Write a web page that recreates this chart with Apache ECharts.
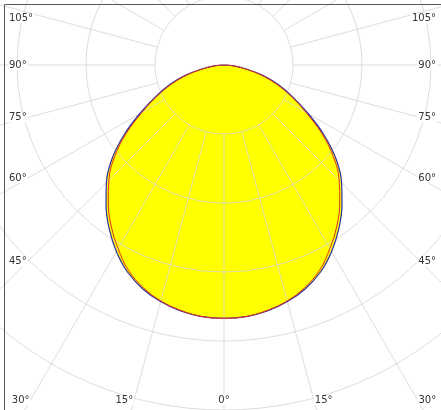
<!DOCTYPE html>
<html><head><meta charset="utf-8">
<script src="https://cdn.jsdelivr.net/npm/echarts@6/dist/echarts.min.js"></script>
<style>html,body{margin:0;padding:0;background:#fff}#c{width:441px;height:410px}</style>
</head><body><div id="c"></div>
<script>
// Gamma angles (deg from nadir) and luminous intensity (arbitrary units, ring = 100)
const gammaAngles = [0,5,10,15,20,25,30,35,40,45,50,55,60,65,70,75,80,85,90];
const curveBlue   = [367,366,362,355,345,331,312,290,266,241,212,177,141,110,84,58,31,14,0];
const curveRed    = [367,366,361,354,343,328,307,285,261,236,207,173,137,107,81,56,30,13,0];
const angleLabels = [0,15,30,45,60,75,90,105];
const ringMax = 600;

function buildCurve(vals){
  const pts = [];
  for (let i = gammaAngles.length - 1; i >= 0; i--) pts.push([vals[i], gammaAngles[i]]);
  for (let i = 1; i < gammaAngles.length; i++) pts.push([vals[i], 360 - gammaAngles[i]]);
  return pts;
}

const chart = echarts.init(document.getElementById('c'), null, {renderer:'canvas'});
const CX = 224, CY = 65, R = 414;
const gridColor = 'rgba(212,212,212,0.8)';
const option = {
  animation:false,
  polar:[{center:[CX,CY], radius:[0,R]},{center:[CX,CY], radius:[R/6,R*1.2]}],
  angleAxis:[
    {polarIndex:0,type:'value',min:0,max:360,interval:15,startAngle:270,clockwise:true,
     axisLine:{show:false},axisTick:{show:false},axisLabel:{show:false},splitLine:{show:false},z:5},
    {polarIndex:1,type:'value',min:0,max:360,interval:15,startAngle:270,clockwise:true,
     axisLine:{show:false},axisTick:{show:false},axisLabel:{show:false},
     splitLine:{show:true,lineStyle:{color:gridColor,width:1}},z:5}
  ],
  radiusAxis:[
    {polarIndex:0,type:'value',min:0,max:ringMax,interval:100,
     axisLine:{show:false},axisTick:{show:false},axisLabel:{show:false},
     splitLine:{show:true,lineStyle:{color:gridColor,width:1}},z:5},
    {polarIndex:1,type:'value',min:0,max:1,
     axisLine:{show:false},axisTick:{show:false},axisLabel:{show:false},splitLine:{show:false}}
  ],
  series:[
    {type:'line',coordinateSystem:'polar',polarIndex:0,data:buildCurve(curveBlue),smooth:0.4,
     symbol:'none',lineStyle:{width:0},areaStyle:{color:'#ffff00',opacity:1},z:1,silent:true},
    {type:'line',coordinateSystem:'polar',polarIndex:0,data:buildCurve(curveBlue),smooth:0.4,
     symbol:'none',lineStyle:{width:1.2,color:'#2e2ea6'},z:10},
    {type:'line',coordinateSystem:'polar',polarIndex:0,data:buildCurve(curveRed),smooth:0.4,
     symbol:'none',lineStyle:{width:1,color:'#e0301e'},z:11}
  ]
};
chart.setOption(option);

// angle labels: vertical position from where each ray crosses an inset line, text kept inside the frame
const graphics = [
  {type:'polyline',shape:{points:[[4.5,410],[4.5,4.5],[441,4.5]]},style:{stroke:'#555',lineWidth:1,fill:null},z:50}
];
const font = '10px "DejaVu Sans", sans-serif';
const c = chart.convertToPixel({polarIndex:0},[0,0]);
angleLabels.forEach(g=>{
  [1,-1].forEach(side=>{
    if (g===0 && side===-1) return;
    const p = chart.convertToPixel({polarIndex:0},[100, side===1? g : 360-g]);
    const dx = p[0]-c[0], dy = p[1]-c[1];
    let x, y, align;
    const xProbe = side===1 ? 28 : 420;
    const tSide = Math.abs(dx) > 1e-6 ? (xProbe - c[0]) / dx : Infinity;
    const tBot = dy > 1e-6 ? (400 - c[1]) / dy : Infinity;
    if (tBot < tSide) {
      x = c[0] + dx*tBot; y = 400;
      align = g===0 ? 'center' : (side===1 ? 'right' : 'left');
    } else {
      x = side===1 ? 8 : 437; y = Math.max(18, c[1] + dy*tSide);
      align = side===1 ? 'left' : 'right';
    }
    graphics.push({type:'text',x:x,y:y,z:60,style:{text:g+'°',font:font,fill:'#333',align:align,verticalAlign:'middle',backgroundColor:'#fff',padding:[0,1]}});
  });
});
chart.setOption({graphic:graphics});
</script></body></html>
